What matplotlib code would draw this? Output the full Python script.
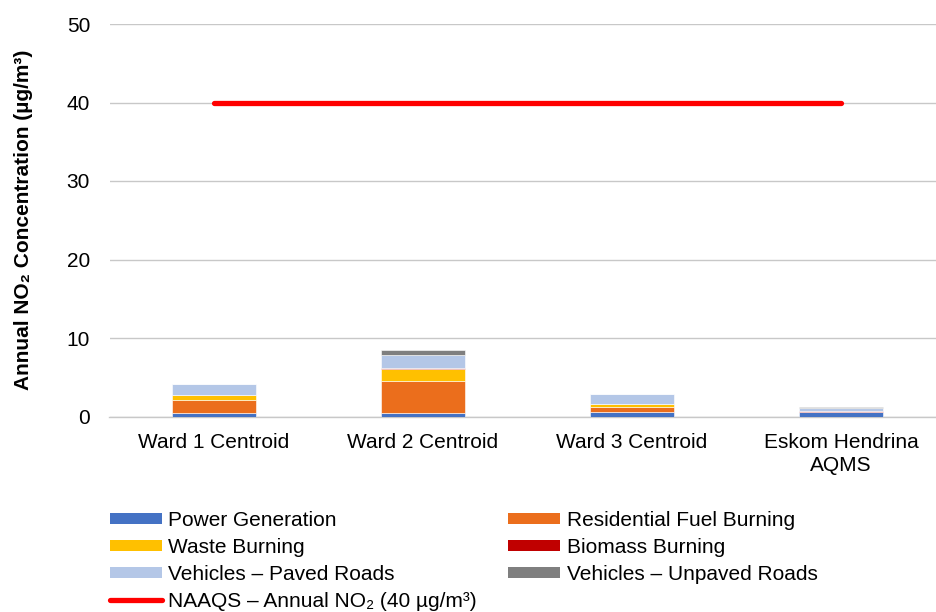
import matplotlib.pyplot as plt
from matplotlib.patches import Patch
import numpy as np

plt.rcParams['font.family'] = ['Liberation Sans', 'DejaVu Sans']

sites = ['Ward 1 Centroid', 'Ward 2 Centroid', 'Ward 3 Centroid', 'Eskom Hendrina\nAQMS']
power = [0.45, 0.5, 0.55, 0.55]
residential = [1.6, 4.0, 0.64, 0.08]
waste = [0.72, 1.6, 0.43, 0.0]
biomass = [0.02, 0.02, 0.01, 0.01]
paved = [1.3, 1.73, 1.18, 0.5]
unpaved = [0.0, 0.56, 0.05, 0.02]
naaqs = 40

series = [
    ('Power Generation', power, '#4472C4'),
    ('Residential Fuel Burning', residential, '#EB6E1C'),
    ('Waste Burning', waste, '#FFC000'),
    ('Biomass Burning', biomass, '#C00000'),
    ('Vehicles – Paved Roads', paved, '#B4C7E7'),
    ('Vehicles – Unpaved Roads', unpaved, '#7F7F7F'),
]

fig = plt.figure(figsize=(9.36, 6.12), dpi=100)
ax = fig.add_axes([109.5 / 936, 195.5 / 612, 826.5 / 936, 392.5 / 612])

x = np.arange(len(sites))
bottom = np.zeros(len(sites))
handles = {}
for name, vals, col in series:
    ax.bar(x, vals, 0.4, bottom=bottom, color=col, edgecolor='white', linewidth=0.4, zorder=3)
    bottom += np.array(vals)
    handles[name] = Patch(facecolor=col)

line, = ax.plot(x, [naaqs] * len(x), color='#FF0000', linewidth=3.8, solid_capstyle='round', zorder=4)

ax.set_xlim(-0.5, (936 - 109.5) / 209 - 0.5)
ax.set_ylim(0, 50)
ax.set_yticks(range(0, 51, 10))
ax.set_xticks(x)
ax.set_xticklabels(sites, fontsize=15, linespacing=1.25)
ax.tick_params(axis='y', labelsize=15, length=0, pad=14)
ax.tick_params(axis='x', length=0, pad=12)
ax.grid(axis='y', color='#c8c8c8', linewidth=1, zorder=0)
for s in ['top', 'right', 'left']:
    ax.spines[s].set_visible(False)
ax.spines['bottom'].set_color('#c8c8c8')
ax.spines['bottom'].set_linewidth(1)

ax.set_ylabel('Annual NO₂ Concentration (µg/m³)', fontsize=15, fontweight='bold')
ax.yaxis.set_label_coords(-0.092, 0.5)

order = [handles['Power Generation'], handles['Waste Burning'], handles['Vehicles – Paved Roads'], line,
         handles['Residential Fuel Burning'], handles['Biomass Burning'], handles['Vehicles – Unpaved Roads']]
labels = ['Power Generation', 'Waste Burning', 'Vehicles – Paved Roads', 'NAAQS – Annual NO₂ (40 µg/m³)',
          'Residential Fuel Burning', 'Biomass Burning', 'Vehicles – Unpaved Roads']
fig.legend(order, labels, ncol=2, loc='upper left', bbox_to_anchor=(110 / 936, 1 - 511 / 612),
           frameon=False, fontsize=15, handlelength=2.5, handleheight=0.43, handletextpad=0.3,
           labelspacing=0.38, columnspacing=1.5, borderaxespad=0, borderpad=0)

fig.savefig('out.png', dpi=100)
